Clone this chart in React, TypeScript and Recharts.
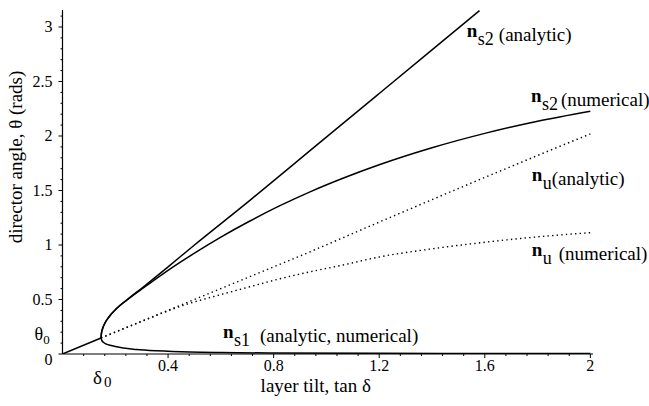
import React from 'react';
import { LineChart, Line, XAxis, YAxis, ReferenceDot } from 'recharts';

const serif = "'Liberation Serif', 'Times New Roman', serif";
const txt = { fontFamily: serif };

// where the three branches split (delta_0, theta_0)
const foldX = 0.146;
const foldY = 0.147;

// single stable branch below the fold
const baseX = [0, 0.146];
const baseY = [0, 0.147];

// n_s1, lower branch (analytic and numerical coincide)
const ns1X = [0.146, 0.149, 0.156, 0.167, 0.18, 0.2, 0.23, 0.28, 0.357, 0.483, 0.6, 0.8, 1.2, 1.6, 2.0];
const ns1Y = [0.147, 0.125, 0.105, 0.09, 0.08, 0.068, 0.054, 0.042, 0.03, 0.018, 0.013, 0.009, 0.006, 0.005, 0.004];

// n_s2 analytic
const ns2aX = [0.146, 0.1475, 0.1515, 0.16, 0.176, 0.206, 0.243, 0.306, 0.4, 0.5, 0.71, 0.94, 1.2, 1.4, 1.58];
const ns2aY = [0.147, 0.19, 0.23, 0.28, 0.34, 0.42, 0.495, 0.615, 0.8, 1.0, 1.41, 1.87, 2.39, 2.79, 3.15];

// n_s2 numerical
const ns2nX = [0.146, 0.1475, 0.1515, 0.16, 0.176, 0.206, 0.243, 0.3, 0.4, 0.5, 0.6, 0.71, 0.82, 0.94, 1.06, 1.2, 1.4, 1.6, 1.8, 2.0];
const ns2nY = [0.147, 0.19, 0.23, 0.28, 0.34, 0.42, 0.493, 0.595, 0.768, 0.925, 1.072, 1.22, 1.356, 1.49, 1.61, 1.736, 1.892, 2.024, 2.136, 2.228];

// n_u analytic (dotted)
const nuaX = [0.146, 0.3, 0.5, 0.7, 0.94, 1.2, 1.6, 2.0];
const nuaY = [0.147, 0.3, 0.5, 0.7, 0.94, 1.21, 1.62, 2.02];

// n_u numerical (dotted)
const nunX = [0.146, 0.3, 0.45, 0.6, 0.71, 0.82, 0.94, 1.06, 1.2, 1.4, 1.6, 1.8, 2.0];
const nunY = [0.147, 0.3, 0.44, 0.545, 0.617, 0.688, 0.755, 0.815, 0.89, 0.965, 1.025, 1.075, 1.113];

const xMajor = [0.4, 0.8, 1.2, 1.6, 2];
const xMajorLabels = ['0.4', '0.8', '1.2', '1.6', '2'];
const xMinor = [0.08, 0.16, 0.24, 0.32, 0.48, 0.56, 0.64, 0.72, 0.88, 0.96, 1.04, 1.12, 1.28, 1.36, 1.44, 1.52, 1.68, 1.76, 1.84, 1.92];

const yMajor = [0, 0.5, 1, 1.5, 2, 2.5, 3];
const yMajorLabels = ['0', '0.5', '1', '1.5', '2', '2.5', '3'];
const yMinor = [0.1, 0.2, 0.3, 0.4, 0.6, 0.7, 0.8, 0.9, 1.1, 1.2, 1.3, 1.4, 1.6, 1.7, 1.8, 1.9, 2.1, 2.2, 2.3, 2.4, 2.6, 2.7, 2.8, 2.9, 3.1];

const toPoints = (xs: number[], ys: number[]) => xs.map((x, i) => ({ x, y: ys[i] }));

const near = (a: number, b: number) => Math.abs(a - b) < 1e-6;

const XTick = (props: any) => {
  const { x, y, payload } = props;
  const v = payload.value;
  if (near(v, foldX)) {
    return (
      <text x={x - 8} y={y + 30} style={txt} fontSize={19} fill="#000">
        δ<tspan dx={2} dy={3} fontSize={15}>0</tspan>
      </text>
    );
  }
  const idx = xMajor.findIndex((t) => near(t, v));
  return (
    <g>
      <line x1={x} y1={y} x2={x} y2={y + (idx >= 0 ? 4 : 2)} stroke="#000" strokeWidth={1} />
      {idx >= 0 && (
        <text x={x} y={y + 17} textAnchor="middle" style={txt} fontSize={16} fill="#000">
          {xMajorLabels[idx]}
        </text>
      )}
    </g>
  );
};

const YTick = (props: any) => {
  const { x, y, payload } = props;
  const v = payload.value;
  if (near(v, foldY)) {
    return (
      <text x={x - 28} y={y + 2} style={txt} fontSize={18} fill="#000">
        θ<tspan dy={4} fontSize={13}>0</tspan>
      </text>
    );
  }
  const idx = yMajor.findIndex((t) => near(t, v));
  return (
    <g>
      <line x1={x} y1={y} x2={x - (idx >= 0 ? 4 : 2)} y2={y} stroke="#000" strokeWidth={1} />
      {idx >= 0 && (
        <text x={x - 10} y={y + (v === 0 ? 11 : 5)} textAnchor="end" style={txt} fontSize={16} fill="#000">
          {yMajorLabels[idx]}
        </text>
      )}
    </g>
  );
};

const SeriesNote = (props: any) => {
  const { viewBox, sub, text, gap } = props;
  const x = viewBox?.x ?? 0;
  const y = viewBox?.y ?? 0;
  return (
    <g style={txt} fill="#000">
      <text x={x} y={y} style={txt} fontSize={19} fontWeight="bold">n</text>
      <text x={x + 11} y={y + 8} style={txt} fontSize={18}>{sub}</text>
      <text x={x + gap} y={y + 4} style={txt} fontSize={19}>{text}</text>
    </g>
  );
};

// label anchors: bold "n" start of each series note
const notes = [
  { x: 1.532, y: 2.908, sub: 's2', text: '(analytic)', gap: 32 },
  { x: 1.775, y: 2.312, sub: 's2', text: '(numerical)', gap: 30 },
  { x: 1.778, y: 1.587, sub: 'u', text: '(analytic)', gap: 20 },
  { x: 1.778, y: 0.899, sub: 'u', text: '(numerical)', gap: 27 },
  { x: 0.608, y: 0.147, sub: 's1', text: '(analytic, numerical)', gap: 37 },
];

const XTitle = (props: any) => {
  const { viewBox } = props;
  return (
    <text x={viewBox.x + viewBox.width / 2 - 12} y={viewBox.y + 38} textAnchor="middle" style={txt} fontSize={19} fill="#000">
      layer tilt, tan  δ
    </text>
  );
};

const YTitle = () => {
  const cx = 18;
  const cy = 157;
  return (
    <text x={cx} y={cy} transform={`rotate(-90 ${cx} ${cy})`} textAnchor="middle" dominantBaseline="middle" style={txt} fontSize={19} fill="#000">
      director angle,  θ  (rads)
    </text>
  );
};

export default function App() {
  const solid = { stroke: '#000', strokeWidth: 1.5, dot: false, activeDot: false, isAnimationActive: false, type: 'monotone' as const };
  const dotted = { ...solid, strokeWidth: 1.4, strokeDasharray: '1.4 3.2' };

  return (
    <div style={{ position: 'absolute', left: 0, top: 0, background: '#fff' }}>
      <LineChart width={649} height={406} margin={{ top: 10, right: 56, bottom: 0, left: 0 }}>
        <XAxis
          type="number"
          dataKey="x"
          domain={[0, 2.01]}
          allowDataOverflow
          ticks={[...xMinor, ...xMajor, foldX]}
          interval={0}
          tickSize={0}
          tickMargin={0}
          tickLine={false}
          tick={<XTick />}
          height={52}
          axisLine={{ stroke: '#000', strokeWidth: 1.2 }}
          label={<XTitle />}
        />
        <YAxis
          type="number"
          dataKey="y"
          domain={[0, 3.156]}
          allowDataOverflow
          ticks={[...yMinor, ...yMajor, foldY]}
          interval={0}
          tickSize={0}
          tickMargin={0}
          tickLine={false}
          tick={<YTick />}
          width={62.5}
          axisLine={{ stroke: '#000', strokeWidth: 1.2 }}
          label={<YTitle />}
        />
        <Line data={toPoints(baseX, baseY)} dataKey="y" {...solid} />
        <Line data={toPoints(ns1X, ns1Y)} dataKey="y" {...solid} />
        <Line data={toPoints(ns2aX, ns2aY)} dataKey="y" {...solid} />
        <Line data={toPoints(ns2nX, ns2nY)} dataKey="y" {...solid} />
        <Line data={toPoints(nuaX, nuaY)} dataKey="y" {...dotted} />
        <Line data={toPoints(nunX, nunY)} dataKey="y" {...dotted} />
        {notes.map((n, i) => (
          <ReferenceDot
            key={i}
            x={n.x}
            y={n.y}
            r={0}
            fill="none"
            stroke="none"
            ifOverflow="visible"
            label={<SeriesNote sub={n.sub} text={n.text} gap={n.gap} />}
          />
        ))}
      </LineChart>
    </div>
  );
}
